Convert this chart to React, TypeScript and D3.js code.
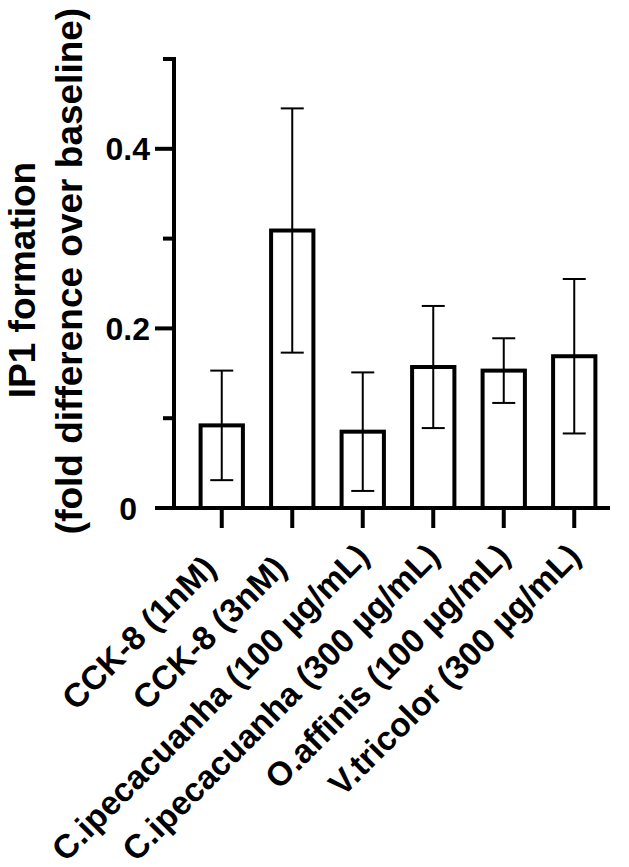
import * as d3 from "d3";

// IP1 formation, fold difference over baseline (mean ± error)
const groups = [
  "CCK-8 (1nM)",
  "CCK-8 (3nM)",
  "C.ipecacuanha (100 µg/mL)",
  "C.ipecacuanha (300 µg/mL)",
  "O.affinis (100 µg/mL)",
  "V.tricolor (300 µg/mL)",
];
const means = [0.092, 0.309, 0.085, 0.157, 0.153, 0.169];
const errors = [0.061, 0.136, 0.066, 0.068, 0.036, 0.086];
const majorTicks = [0, 0.2, 0.4];
const tickLabels = ["0", "0.2", "0.4"];
const minorTicks = [0.1, 0.3, 0.5];

const W = 629;
const H = 867;
const FONT = "'Liberation Sans', Arial, Helvetica, sans-serif";

export default function App() {
  const y = d3.scaleLinear().domain([0, 0.5]).range([508, 59]);
  const x = d3
    .scaleBand<string>()
    .domain(groups)
    .range([186.5, 609.5])
    .paddingInner(0.4)
    .paddingOuter(0.2);

  const axisX = 174; // y axis line position
  const base = y(0);
  const capW = 23;
  const center = (g: string) => (x(g) ?? 0) + x.bandwidth() / 2;
  // longer labels sit a bit further along their slant in the original
  const slide = (g: string) => (g.length > 12 ? 12 : 0);

  return (
    <svg
      width={W}
      height={H}
      style={{ position: "absolute", left: 0, top: 0, background: "#fff" }}
      fontFamily={FONT}
      fontWeight="bold"
    >
      <rect width={W} height={H} fill="#fff" />

      {/* bars */}
      {groups.map((g, i) => (
        <rect
          key={g}
          x={x(g)}
          y={y(means[i])}
          width={x.bandwidth()}
          height={base - y(means[i])}
          fill="#fff"
          stroke="#000"
          strokeWidth={4}
        />
      ))}

      {/* error bars */}
      {groups.map((g, i) => {
        const cx = center(g);
        const hi = y(means[i] + errors[i]);
        const lo = y(means[i] - errors[i]);
        return (
          <g key={g} stroke="#000" strokeWidth={2}>
            <line x1={cx} x2={cx} y1={hi} y2={lo} />
            <line x1={cx - capW / 2} x2={cx + capW / 2} y1={hi} y2={hi} />
            <line x1={cx - capW / 2} x2={cx + capW / 2} y1={lo} y2={lo} />
          </g>
        );
      })}

      {/* x axis */}
      <line x1={155} x2={610} y1={base} y2={base} stroke="#000" strokeWidth={4} />
      {groups.map((g) => {
        const cx = center(g);
        const s = slide(g);
        return (
          <g key={g}>
            <line x1={cx} x2={cx} y1={base} y2={base + 20} stroke="#000" strokeWidth={4} />
            <text
              transform={`translate(${cx - 4 + s},${base + 62 - s}) rotate(-45)`}
              textAnchor="end"
              fontSize={33.4}
            >
              {g}
            </text>
          </g>
        );
      })}

      {/* y axis */}
      <line x1={axisX} x2={axisX} y1={y(0.5) - 2} y2={base} stroke="#000" strokeWidth={4} />
      {majorTicks.map((t, i) => (
        <g key={t}>
          <line x1={155} x2={axisX} y1={y(t)} y2={y(t)} stroke="#000" strokeWidth={4} />
          <text
            x={t === 0 ? 137 : 150}
            y={y(t)}
            dy="0.36em"
            textAnchor="end"
            fontSize={32}
          >
            {tickLabels[i]}
          </text>
        </g>
      ))}
      {minorTicks.map((t) => (
        <line key={t} x1={163} x2={axisX} y1={y(t)} y2={y(t)} stroke="#000" strokeWidth={4} />
      ))}

      {/* y title */}
      <text transform="translate(35,280) rotate(-90)" textAnchor="middle" fontSize={37}>
        IP1 formation
      </text>
      <text transform="translate(82,271) rotate(-90)" textAnchor="middle" fontSize={37}>
        (fold difference over baseline)
      </text>
    </svg>
  );
}
